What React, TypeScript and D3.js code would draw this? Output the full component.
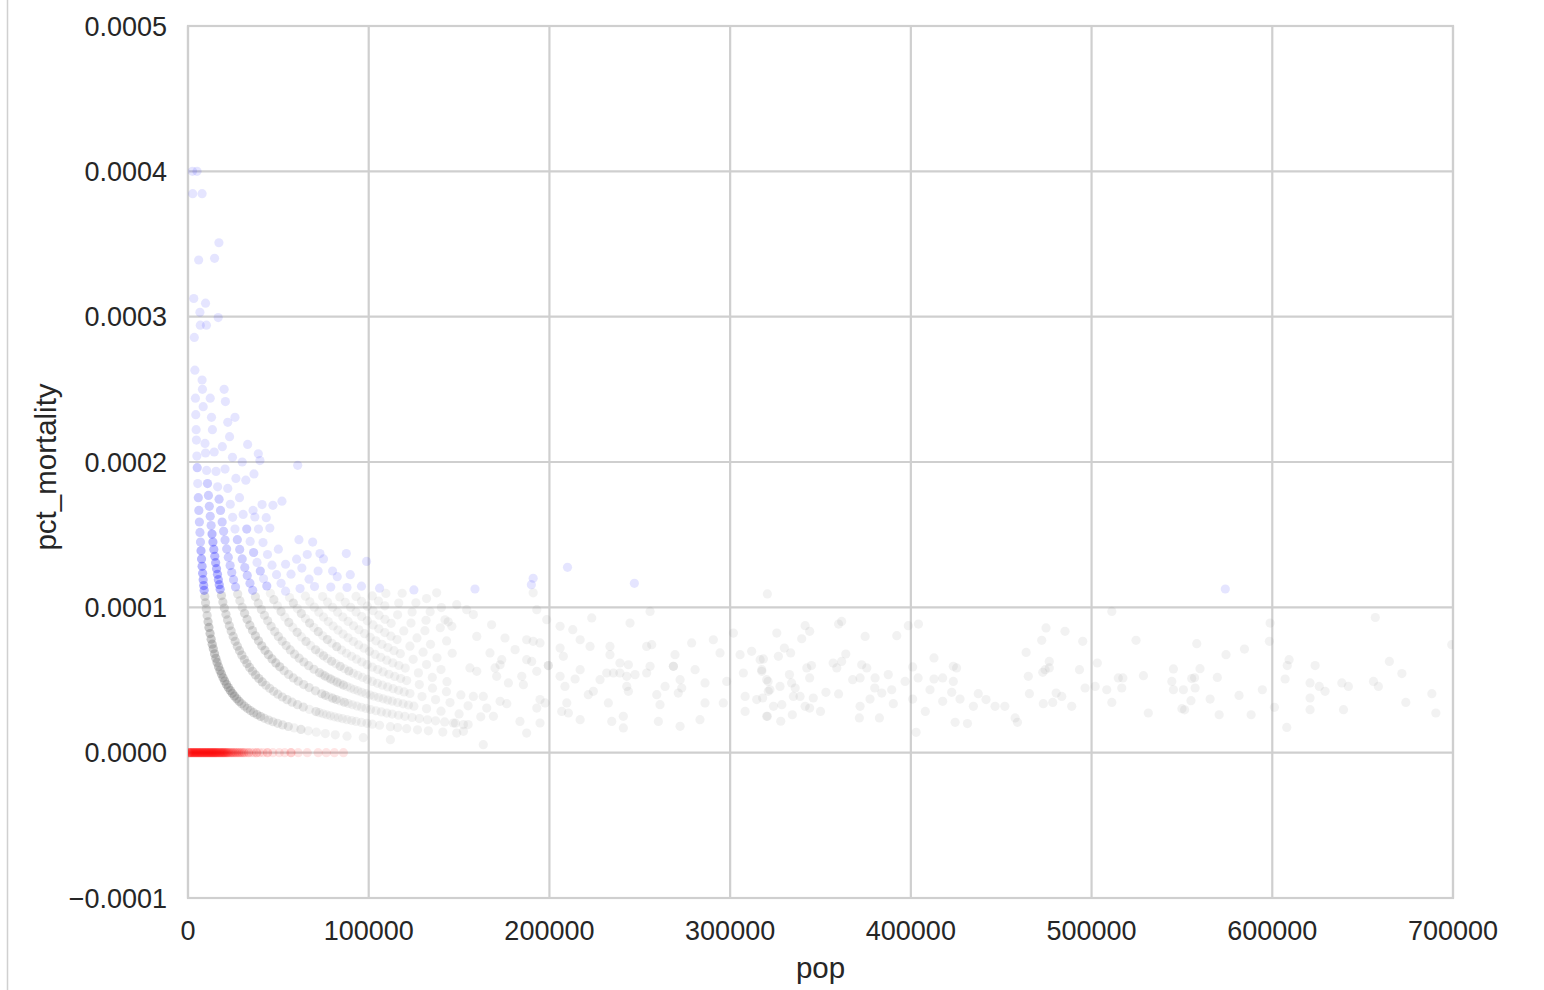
import React from 'react';
import * as d3 from 'd3';

// ---------- axes ----------
const xTicks = [0, 100000, 200000, 300000, 400000, 500000, 600000, 700000];
const xTickLabels = ['0', '100000', '200000', '300000', '400000', '500000', '600000', '700000'];
const yTicks = [-0.0001, 0, 0.0001, 0.0002, 0.0003, 0.0004, 0.0005];
const yTickLabels = ['\u22120.0001', '0.0000', '0.0001', '0.0002', '0.0003', '0.0004', '0.0005'];
const xLabel = 'pop';
const yLabel = 'pct_mortality';

// ---------- data ----------
// Counties grouped by number of deaths (array index = deaths).
// Each entry: [population in thousands, number of counties stacked at about that population]
const deaths0: [number, number][] = [
  [0.4, 3], [1.0, 3], [1.6, 3], [2.2, 3], [2.8, 3], [3.4, 3], [4.0, 3], [4.6, 3], [5.2, 3], [5.8, 3],
  [6.4, 3], [7.0, 3], [7.6, 3], [8.2, 3], [8.8, 3], [9.4, 3], [10.0, 3], [10.6, 3], [11.2, 3], [11.8, 3],
  [12.4, 3], [13.0, 3], [13.6, 3], [14.2, 3], [14.8, 3], [15.4, 3], [16.0, 3], [16.7, 3], [17.4, 3], [18.1, 3],
  [18.8, 3], [19.5, 3], [20.2, 3], [21.0, 3], [21.8, 3], [22.6, 2], [23.4, 2], [24.2, 2], [25.0, 2], [25.9, 2],
  [26.8, 2], [27.8, 2], [28.8, 2], [29.9, 2], [31.0, 2], [32.2, 1], [33.5, 2], [35.0, 1], [36.4, 1], [38.0, 2],
  [39.6, 1], [41.5, 1], [44.0, 2], [47.0, 1], [50.5, 1], [53.5, 1], [57.0, 2], [61.0, 1], [66.0, 1], [72.0, 1],
  [76.5, 1], [81.0, 1], [86.0, 1],
];
const deaths1: [number, number][] = [
  [2.5, 1], [2.6, 1], [3.2, 1], [3.5, 1], [3.8, 1], [4.1, 1], [4.3, 1], [4.5, 1], [4.65, 1], [4.9, 1],
  [5.1, 2], [5.4, 1], [5.7, 2], [6.0, 2], [6.3, 2], [6.6, 2], [6.9, 2], [7.2, 3], [7.5, 3], [7.8, 3],
  [8.1, 3], [8.4, 3], [8.7, 3], [8.95, 3],
  [9.3, 3], [9.7, 3], [10.1, 3], [10.6, 3], [11.1, 4], [11.6, 5], [12.2, 5], [12.8, 5], [13.4, 5], [14.0, 5],
  [14.7, 5], [15.4, 5], [16.1, 5], [16.9, 5], [17.7, 5], [18.5, 5], [19.4, 5], [20.3, 5], [21.3, 5], [22.3, 5],
  [23.4, 5], [24.5, 5], [25.7, 5], [27.0, 4], [28.3, 4], [29.7, 3], [31.2, 3], [32.8, 3], [34.5, 3], [36.3, 3],
  [38.2, 3], [40.2, 3], [42.3, 2], [44.6, 2], [47.0, 2], [49.6, 2], [52.4, 2], [55.5, 2], [58.8, 1], [62.5, 2],
  [66.5, 1], [71.0, 1], [76.0, 1], [81.5, 1], [88.0, 1], [97.0, 1], [112.0, 1],
];
const deaths2: [number, number][] = [
  [5.0, 1], [5.9, 1], [6.6, 1], [6.8, 1], [7.8, 1], [8.0, 1], [8.4, 1], [9.4, 1], [9.7, 1], [10.3, 1],
  [10.8, 2], [11.3, 2], [11.8, 2], [12.3, 2], [12.8, 2], [13.3, 3], [13.8, 3], [14.3, 3], [14.8, 3], [15.3, 3],
  [15.8, 3], [16.3, 3], [16.8, 3], [17.3, 3], [17.8, 3],
  [18.5, 3], [19.3, 3], [20.1, 3], [21.0, 3], [21.9, 3], [22.9, 3], [23.9, 3], [25.0, 3], [26.1, 3], [27.3, 3],
  [28.5, 3], [29.8, 3], [31.2, 3], [32.6, 3], [34.1, 3], [35.7, 3], [37.4, 3], [39.2, 3], [41.1, 3], [43.1, 2],
  [45.2, 2], [47.4, 2], [49.7, 2], [52.2, 2], [54.8, 2], [57.6, 2], [60.6, 2], [63.8, 2], [67.2, 1], [70.8, 2],
  [72.7, 1], [74.7, 1], [76.7, 1], [78.8, 1], [81.0, 1], [83.2, 1], [85.5, 1], [88.0, 1], [90.5, 1], [93.0, 1],
  [96.0, 1], [99.0, 1], [102.0, 1], [106.0, 1], [112.0, 1], [116.0, 1], [121.0, 1], [127.0, 1], [133.0, 1], [141.0, 1],
];
const deaths3: [number, number][] = [
  [7.8, 1], [9.7, 1], [10.2, 1], [12.3, 1], [13.0, 1], [13.5, 1], [14.5, 1], [15.5, 1], [16.4, 1], [17.2, 2],
  [18.0, 2], [18.9, 2], [19.7, 2], [20.5, 2], [21.4, 2], [22.3, 2], [23.3, 2], [24.2, 2], [25.2, 2], [26.3, 2],
  [27.5, 2], [28.7, 2], [30.0, 2], [31.3, 3], [32.7, 3], [34.2, 3], [35.7, 3], [37.3, 3], [39.0, 3], [40.8, 3],
  [42.6, 3], [44.5, 3], [46.5, 3], [48.6, 3], [50.8, 3], [53.2, 2], [55.7, 2], [58.3, 2], [61.0, 2], [64.0, 2],
  [67.0, 2], [70.5, 2], [74.0, 2], [76.0, 2], [78.0, 1], [80.0, 2], [82.0, 2], [84.2, 1], [86.5, 2], [88.7, 1],
  [91.0, 1], [93.5, 1], [96.0, 1], [98.5, 1], [101.0, 1], [104.0, 1], [107.0, 1], [110.0, 1], [113.0, 1], [116.5, 1],
  [120.0, 1], [124.0, 1], [128.0, 1], [132.5, 1], [137.0, 1], [142.0, 1], [148.0, 1], [155.0, 1],
];
const deaths4: [number, number][] = [
  [19.0, 1], [20.5, 1], [22.0, 1], [23.4, 1], [24.7, 1], [26.0, 1], [27.3, 2], [28.6, 2], [30.0, 2], [31.4, 2],
  [32.8, 2], [34.3, 2], [35.8, 2],
  [37.3, 2], [38.9, 2], [40.6, 2], [42.3, 2], [44.1, 2], [46.0, 2], [48.0, 2], [50.0, 2], [52.1, 2], [54.3, 2],
  [56.6, 2], [59.0, 2], [61.5, 2], [64.1, 2], [66.8, 2], [69.7, 2], [72.7, 2], [74.2, 1], [75.8, 2], [77.4, 1],
  [79.0, 2], [80.7, 1], [82.5, 2], [84.2, 1], [86.0, 2], [88.0, 1], [90.0, 1], [92.0, 1], [94.0, 1], [96.2, 1],
  [98.5, 1], [100.8, 1], [103.0, 1], [105.5, 1], [108.0, 1], [110.5, 1], [113.0, 1], [116.0, 1], [119.0, 1], [122.0, 1],
  [125.0, 1], [132.0, 1], [140.0, 1], [150.0, 1], [162.0, 1],
];
const deaths5: [number, number][] = [
  [14.7, 1], [16.7, 1], [20.0, 1], [20.7, 1], [22.0, 1], [23.0, 1], [24.6, 1], [26.5, 1], [28.5, 1], [30.5, 1],
  [32.5, 2], [34.4, 1], [36.3, 2], [38.2, 1], [40.0, 2], [41.8, 1], [43.6, 2],
  [45.6, 1], [47.5, 2], [49.5, 1], [51.5, 2], [53.6, 1], [55.8, 2], [58.0, 1], [60.4, 2], [62.8, 1], [65.3, 2],
  [67.9, 1], [70.6, 2], [72.8, 1], [75.0, 2], [77.2, 1], [79.5, 2], [81.8, 1], [84.2, 2], [86.6, 1], [89.0, 2],
  [91.5, 1], [94.0, 1], [96.6, 1], [99.2, 1], [102.0, 1], [104.8, 1], [107.6, 1], [110.5, 1], [113.5, 1], [116.5, 1],
  [119.6, 1], [122.8, 1], [129.5, 1], [137.0, 1], [145.0, 1], [155.0, 1],
];
const deaths6: [number, number][] = [
  [17.1, 1], [26.0, 1], [30.0, 1], [32.0, 1], [36.0, 1], [37.0, 1], [39.0, 1], [41.5, 1], [44.0, 1], [46.5, 1],
  [49.0, 1], [51.5, 1], [54.0, 1],
  [56.2, 1], [58.3, 2], [60.5, 1], [62.7, 2], [65.0, 1], [67.3, 2], [69.7, 1], [72.1, 2], [74.6, 1], [77.1, 2],
  [79.7, 1], [82.3, 2], [85.0, 1], [87.7, 1], [90.5, 1], [93.3, 1], [96.2, 1], [99.1, 1], [102.0, 1], [105.0, 1],
  [108.0, 1], [111.2, 1], [114.4, 1], [117.7, 1], [121.0, 1], [128.0, 1], [135.3, 1], [143.0, 1], [151.0, 1],
];
const deaths7: [number, number][] = [
  [33.0, 1], [36.5, 1], [41.0, 1], [43.3, 1], [45.3, 1], [50.0, 1], [54.0, 1], [57.0, 1], [62.0, 1],
  [65.0, 1], [67.4, 1], [69.9, 1], [72.4, 1], [75.0, 1], [77.6, 1], [80.3, 1], [83.0, 1], [85.8, 1], [88.6, 1],
  [91.5, 1], [94.4, 1], [97.4, 1], [100.4, 1], [103.5, 1], [106.7, 1], [110.0, 1], [113.3, 1], [116.7, 1], [120.2, 1],
  [127.5, 1], [135.2, 1], [143.3, 1],
];
const deaths8: [number, number][] = [
  [38.9, 1], [39.8, 1], [47.0, 1], [60.1, 1], [63.0, 1], [67.0, 1], [70.0, 1],
  [74.5, 1], [77.2, 1], [80.0, 1], [82.8, 1], [85.7, 1], [88.6, 1], [91.6, 1], [94.6, 1], [97.7, 1], [100.8, 1],
  [104.0, 1], [107.3, 1], [110.6, 1], [114.0, 1], [117.5, 1], [124.6, 1], [132.0, 1], [140.0, 1],
];
const deaths9: [number, number][] = [
  [52.0, 1], [61.4, 1], [66.0, 1], [72.0, 1], [79.0, 1],
  [84.0, 1], [87.0, 1], [90.0, 1], [93.0, 1], [96.1, 1], [99.2, 1], [102.4, 1], [105.6, 1], [108.9, 1], [112.3, 1],
  [115.7, 1], [122.8, 1], [130.1, 1], [137.8, 1],
];
const deaths10: [number, number][] = [
  [69.0, 1], [73.0, 1], [75.0, 1], [80.0, 1], [82.6, 1], [88.0, 1],
  [93.0, 1], [96.0, 1], [99.2, 1], [102.4, 1], [105.7, 1], [109.0, 1], [112.4, 1], [119.4, 1], [126.7, 1], [134.2, 1],
  [146.2, 1],
];
const deaths11: [number, number][] = [
  [89.8, 1], [96.0, 1],
  [102.0, 1], [105.4, 1], [108.9, 1], [116.0, 1], [123.4, 1], [131.1, 1], [143.1, 1],
];
const deaths12: [number, number][] = [
  [60.7, 1], [87.6, 1], [106.0, 1],
  [109.5, 1], [116.6, 1], [124.0, 1], [131.7, 1], [139.6, 1],
];
const deaths13: [number, number][] = [
  [98.8, 1], [118.5, 1], [126.1, 1], [134.0, 1], [142.2, 1],
];
const deaths14: [number, number][] = [
  [125.0, 1], [132.0, 1], [140.2, 1],
];

const countiesByDeaths = [
  deaths0, deaths1, deaths2, deaths3, deaths4, deaths5, deaths6, deaths7,
  deaths8, deaths9, deaths10, deaths11, deaths12, deaths13, deaths14,
];

// Larger counties: [population in thousands, pct_mortality in millionths]
const largeCounties: [number, number][] = [
  [158.8, 112.6], [191, 120], [190, 115.6], [210, 127.5], [247, 116.5], [574, 112.6],
  [137.6, 110], [148.7, 101.8], [154.2, 98.4], [157.9, 95], [144, 90], [146, 86.9], [163.4, 5.5],
  [148.7, 13.5], [152.4, 14.7], [146.8, 20.4], [152.4, 19.3],
  [168, 88], [175.4, 78.9], [159.8, 80], [167.1, 68.6], [169.9, 58.3], [172.7, 60.5], [181, 70.9],
  [187.4, 77.7], [191, 76.6], [194.8, 75.5], [187.4, 64], [190.2, 62.8], [199.4, 59.9], [199.4, 59.9],
  [170.8, 52.5], [177.3, 48], [184.7, 52.5], [185.6, 46.8], [193, 56], [194.8, 36.5], [197.6, 34.2],
  [193, 30.7], [172.7, 35.3], [176.4, 33.7], [165.3, 30.7], [169, 25], [163.4, 38.7], [183.7, 21.5],
  [194.8, 20.4], [187.4, 13.5], [157.9, 38.7], [159.8, 56], [156, 58.3], [173.6, 64],
  [244.6, 89.2], [255.7, 97.2], [198.5, 91.5], [193, 98.4], [191, 110],
  [205.9, 86.9], [212.9, 84.6], [217, 77.7], [223.4, 92.7], [205.9, 72], [207.7, 66.3], [205.9, 52.5],
  [208.6, 45.6], [214.2, 50.7], [217, 57.1], [222.5, 73.1], [233.5, 73.1], [233.5, 67.4], [239, 61.7],
  [243.7, 60.5], [242.8, 52.5], [235.4, 54.8], [239, 54.8], [221.5, 39.9], [224.3, 42.2], [209.6, 34.2],
  [210.5, 27.3], [217, 22.7], [206.8, 28.4], [232.6, 34.2], [234.5, 21.5], [240.9, 25], [240.9, 17],
  [242.8, 45.6], [243.7, 42.2], [228, 50.2], [231.7, 54.8], [247.4, 53.7], [253.8, 54.8], [255.7, 59.4],
  [253.8, 73.1], [256.6, 74.3], [261.2, 33], [259.4, 39.9], [264, 45.6], [268.6, 59.4], [268.6, 59.4],
  [269.5, 67.4], [272.3, 50.2], [273.2, 44.5], [271.3, 41], [278.7, 75.5], [280.6, 57.1], [286.1, 48],
  [286.1, 34.2], [290.7, 77.7], [294.4, 68.6], [298.1, 49], [296.2, 34.2], [283.3, 22.7], [272.3, 18.1],
  [260.3, 21.5], [301.8, 82.3], [305.5, 67.4], [311.9, 69.7], [307.3, 54.8], [316.6, 64], [317.5, 56],
  [308.3, 38.7], [320.2, 50.2], [314.7, 36.5], [321.1, 42.2], [308.3, 28.4], [320.2, 25], [320.6, 109.2],
  [325.8, 82.3], [318.4, 64.5], [317.5, 57.1], [321, 49], [322, 43.3], [318, 37.6], [324, 31.9],
  [320.6, 25], [328, 21.6], [326.7, 66.3], [330, 72], [333.5, 68.6], [327.6, 45.6], [328.6, 33],
  [332.8, 53.7], [334, 48], [336, 44.5], [335, 38.7], [338.7, 38.7], [341.5, 31.9], [344, 30.7],
  [334.4, 26.1], [341.5, 87.4], [344, 83.5], [339.6, 78.4], [342.4, 58.3], [345, 59.9], [344, 51.4],
  [346, 37.6], [350, 28.4], [353, 41.5], [360, 88.5], [361.7, 90.3], [360, 40.4], [357, 61.7],
  [359, 58.3], [364, 67.9], [361.7, 62.8], [367.8, 50.2], [371.9, 51.4], [372.8, 60.5], [375.6, 58.3],
  [374.7, 80], [371.9, 31.9], [371.5, 23.9], [377.4, 36.9], [380.2, 51.4], [380, 44.5], [383.9, 41],
  [382.6, 23.9], [387.5, 53.7], [389.4, 43.3], [390.3, 33.7], [392.2, 80.5], [396.8, 49], [398.6, 87.4],
  [404.2, 88.5], [401, 59], [404, 51.4], [401, 36.9], [402.9, 14], [408, 28.4], [410.6, 43.3],
  [412.8, 65.2], [412.8, 50.7], [417.6, 51.4], [417.6, 35.3], [422.6, 41.5], [423.5, 59.4], [425.3, 58.3],
  [423.5, 49], [424.5, 20.9], [427.2, 36.9], [431.3, 20], [434.6, 31.9], [437.3, 40.6], [441.6, 36.5],
  [446.6, 31.9], [452, 31.9], [457.7, 23.9], [459, 20.9], [463.8, 69], [465, 52.5], [465.6, 40.6],
  [472.4, 77.3], [474.8, 85.8], [473, 55.3], [474.3, 57.1], [476.6, 62.8], [476.6, 58.3], [473.3, 33.7],
  [478.5, 34.6], [480.4, 41], [483.5, 38.7], [485.3, 83.5], [489, 31.9], [493.3, 57.1], [495.1, 76.6],
  [496.4, 44.5], [503.2, 61.7], [502, 45.6], [508.4, 43.3], [511.2, 34.6], [511.2, 97.2], [514.8, 51.4],
  [517.3, 51.4], [516.7, 44.5], [524.6, 77.3], [528.7, 53], [531.4, 27.3],
  [545.3, 57.6], [544.4, 49], [545.3, 43.3], [550.8, 43.3], [555.4, 51], [557, 51.5], [557.3, 44.5],
  [555, 35.8], [550, 30.3], [551.5, 29.5], [558.2, 75], [560, 57.8], [565.6, 36.9], [569.6, 51.8],
  [570.6, 26.1], [574.4, 67.4], [581.6, 39.4], [584.6, 71.3], [588.3, 26.1], [594.5, 43.3], [598.8, 89.2],
  [598.4, 76.6], [601.2, 31.2], [607.1, 50.7], [608, 17.4], [609.3, 64], [608.3, 59.9], [620.9, 48],
  [620.9, 37.6], [620.9, 29.6], [623.7, 59.9], [626, 45.6], [629.2, 42.2], [638.5, 48], [642.1, 45.6],
  [639.4, 29.6], [656, 49], [658.7, 45.6], [657, 93], [664.8, 62.8], [671.7, 54.4], [673.9, 34.6],
  [688.3, 40.6], [690.5, 27.3], [699.3, 74.3],
];

const highThreshold = 0.000111;
const pointColors = { zero: '#ff0000', high: '#0000ff', other: '#808080' };

type Pt = { pop: number; pct: number; n: number };

function buildPoints(): Pt[] {
  const pts: Pt[] = [];
  countiesByDeaths.forEach((arr, deaths) => {
    arr.forEach(([popK, n]) => {
      const pop = popK * 1000;
      pts.push({ pop, pct: deaths / pop, n });
    });
  });
  largeCounties.forEach(([popK, pctM]) => pts.push({ pop: popK * 1000, pct: pctM * 1e-6, n: 1 }));
  return pts;
}

const W = 1544;
const H = 990;
const plot = { left: 188, right: 1453, top: 26, bottom: 898 };
const FONT = '"Liberation Sans", Arial, Helvetica, sans-serif';
const TEXT = '#262626';
const GRID = '#cfcfcf';

export default function App() {
  const x = d3.scaleLinear().domain([0, 700000]).range([plot.left, plot.right]);
  const y = d3.scaleLinear().domain([-0.0001, 0.0005]).range([plot.bottom, plot.top]);
  const pts = buildPoints();
  const alpha = 0.1;
  const colorOf = (p: Pt) => (p.pct === 0 ? pointColors.zero : p.pct > highThreshold ? pointColors.high : pointColors.other);
  const order = (p: Pt) => (p.pct === 0 ? 2 : p.pct > highThreshold ? 1 : 0);
  const sorted = [...pts].sort((a, b) => order(a) - order(b));

  return (
    <svg width={W} height={H} style={{ position: 'absolute', left: 0, top: 0, background: '#fff' }}>
      <rect x={0} y={0} width={W} height={H} fill="#ffffff" />
      <line x1={7.5} x2={7.5} y1={0} y2={H} stroke="#d0d0d0" strokeWidth={1.5} />
      <defs>
        <clipPath id="plotClip">
          <rect x={plot.left} y={plot.top} width={plot.right - plot.left} height={plot.bottom - plot.top} />
        </clipPath>
      </defs>
      {/* grid */}
      {xTicks.map((t) => (
        <line key={'gx' + t} x1={x(t)} x2={x(t)} y1={plot.top} y2={plot.bottom} stroke={GRID} strokeWidth={2.2} />
      ))}
      {yTicks.map((t) => (
        <line key={'gy' + t} x1={plot.left} x2={plot.right} y1={y(t)} y2={y(t)} stroke={GRID} strokeWidth={2.2} />
      ))}
      <rect x={plot.left} y={plot.top} width={plot.right - plot.left} height={plot.bottom - plot.top}
        fill="none" stroke={GRID} strokeWidth={2.2} />
      {/* points */}
      <g clipPath="url(#plotClip)">
        {sorted.map((p, i) => (
          <circle key={i} cx={x(p.pop)} cy={y(p.pct)} r={4.6} fill={colorOf(p)}
            fillOpacity={1 - Math.pow(1 - alpha, p.n)} />
        ))}
      </g>
      {/* tick labels */}
      {xTicks.map((t, i) => (
        <text key={'tx' + t} x={x(t)} y={940} textAnchor="middle" fontFamily={FONT} fontSize={27} fill={TEXT}>
          {xTickLabels[i]}
        </text>
      ))}
      {yTicks.map((t, i) => (
        <text key={'ty' + t} x={167} y={y(t) + 9.6} textAnchor="end" fontFamily={FONT} fontSize={27} fill={TEXT}>
          {yTickLabels[i]}
        </text>
      ))}
      <text x={(plot.left + plot.right) / 2} y={978} textAnchor="middle" fontFamily={FONT} fontSize={29.5} fill={TEXT}>
        {xLabel}
      </text>
      <text transform={`translate(55.5, 467) rotate(-90)`} textAnchor="middle" fontFamily={FONT} fontSize={29.5} fill={TEXT}>
        {yLabel}
      </text>
    </svg>
  );
}
